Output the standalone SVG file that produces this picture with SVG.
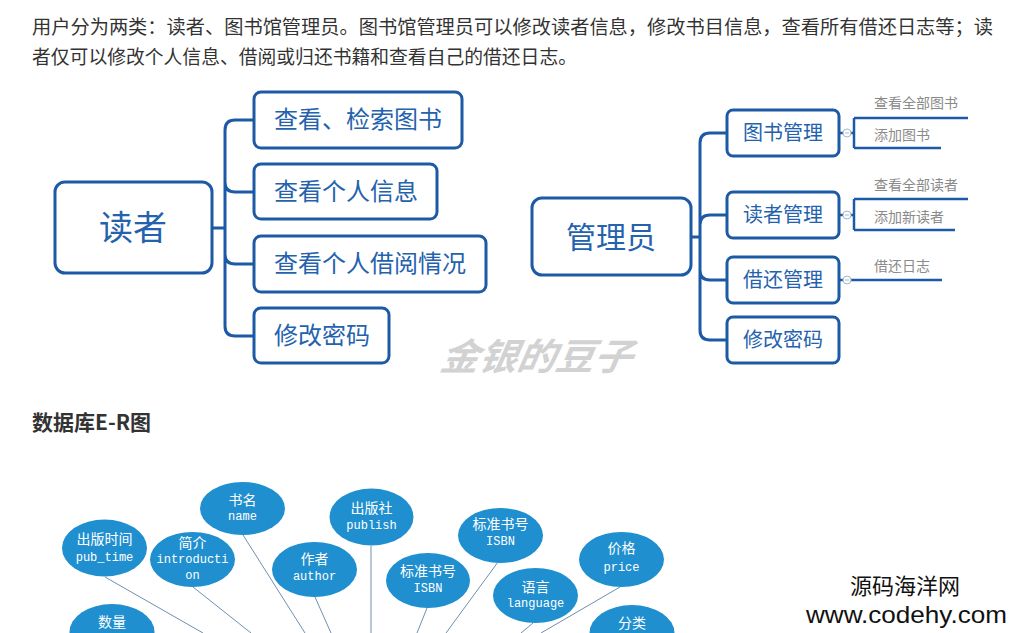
<svg xmlns="http://www.w3.org/2000/svg" width="1011" height="633" viewBox="0 0 1011 633">
<style>
.para{font-family:"Noto Sans CJK SC","Noto Sans",sans-serif;font-size:18.8px;fill:#333}
.box{fill:#fff;stroke:#1d5aa6;stroke-width:3}
.mt{font-family:"Noto Sans CJK SC","Noto Sans",sans-serif;fill:#2462ad}
.br{fill:none;stroke:#1d5aa6;stroke-width:3}
.sub{fill:none;stroke:#1d5aa6;stroke-width:2.5}
.sl{font-family:"Noto Sans CJK SC","Noto Sans",sans-serif;font-size:14px;fill:#8a8a8a}
.tog{fill:#fff;stroke:#a9b6c6;stroke-width:1}
.ell{fill:#1f8fd0}
.ec{font-family:"Noto Sans CJK SC","Noto Sans",sans-serif;font-size:14px;fill:#fff;text-anchor:middle}
.el{font-family:"Liberation Mono",monospace;font-size:12px;fill:#fff;text-anchor:middle}
.ln{stroke:#6f8fae;stroke-width:1;fill:none}
</style>
<rect width="1011" height="633" fill="#fff"/>
<text class="para" x="32" y="34" textLength="961" lengthAdjust="spacingAndGlyphs">用户分为两类：读者、图书馆管理员。图书馆管理员可以修改读者信息，修改书目信息，查看所有借还日志等；读</text>
<text class="para" x="32" y="64" textLength="545" lengthAdjust="spacingAndGlyphs">者仅可以修改个人信息、借阅或归还书籍和查看自己的借还日志。</text>

<g id="reader-connectors">
<path class="br" d="M212,228 H225 M225,228 V130 Q225,120 235,120 H254 M225,228 V182 Q225,192 235,192 H254 M225,228 V254 Q225,264 235,264 H254 M225,228 V326 Q225,336 235,336 H254"/>
</g>
<g id="reader"><rect class="box" x="55" y="182" width="157" height="91" rx="10"/><text class="mt" x="133" y="240" font-size="34" text-anchor="middle">读者</text></g>
<g id="r1"><rect class="box" x="254" y="92" width="208" height="56" rx="7"/><text class="mt" x="274" y="128" font-size="24">查看、检索图书</text></g>
<g id="r2"><rect class="box" x="254" y="164" width="183" height="55" rx="7"/><text class="mt" x="274" y="200" font-size="24">查看个人信息</text></g>
<g id="r3"><rect class="box" x="254" y="236" width="232" height="56" rx="7"/><text class="mt" x="274" y="272" font-size="24">查看个人借阅情况</text></g>
<g id="r4"><rect class="box" x="254" y="308" width="135" height="55" rx="7"/><text class="mt" x="274" y="344" font-size="24">修改密码</text></g>

<g id="admin-connectors">
<path class="br" d="M691,237 H700 M700,237 V143 Q700,133 710,133 H727 M700,237 V225 Q700,215 710,215 H727 M700,237 V270 Q700,280 710,280 H727 M700,237 V330 Q700,340 710,340 H727"/>
<path class="sub" d="M839,133 H843 M851,133 H854 M854,118 V148 M854,118 H968 M854,148 H941"/>
<path class="sub" d="M839,215 H843 M851,215 H854 M854,199 V230 M854,199 H968 M854,230 H955"/>
<path class="sub" d="M839,280 H843 M851,280 H942"/>
<circle class="tog" cx="847" cy="133" r="4"/><path d="M845,133 H849" stroke="#a9b6c6" stroke-width="1"/>
<circle class="tog" cx="847" cy="215" r="4"/><path d="M845,215 H849" stroke="#a9b6c6" stroke-width="1"/>
<circle class="tog" cx="847" cy="280" r="4"/><path d="M845,280 H849" stroke="#a9b6c6" stroke-width="1"/>
</g>
<g id="admin"><rect class="box" x="532" y="198" width="159" height="77" rx="10"/><text class="mt" x="611" y="248" font-size="30" text-anchor="middle">管理员</text></g>
<g id="a1"><rect class="box" x="727" y="110" width="112" height="46" rx="6"/><text class="mt" x="743" y="140" font-size="20">图书管理</text></g>
<g id="a2"><rect class="box" x="727" y="192" width="112" height="46" rx="6"/><text class="mt" x="743" y="222" font-size="20">读者管理</text></g>
<g id="a3"><rect class="box" x="727" y="257" width="112" height="46" rx="6"/><text class="mt" x="743" y="287" font-size="20">借还管理</text></g>
<g id="a4"><rect class="box" x="727" y="317" width="112" height="46" rx="6"/><text class="mt" x="743" y="347" font-size="20">修改密码</text></g>
<g id="a1-subs"><text class="sl" x="874" y="108">查看全部图书</text><text class="sl" x="874" y="140">添加图书</text></g>
<g id="a2-subs"><text class="sl" x="874" y="190">查看全部读者</text><text class="sl" x="874" y="222">添加新读者</text></g>
<g id="a3-subs"><text class="sl" x="874" y="271">借还日志</text></g>

<text x="440" y="370" font-family="'Noto Sans CJK SC',sans-serif" font-size="37" font-weight="bold" font-style="italic" fill="#d2d2d2" textLength="192" lengthAdjust="spacingAndGlyphs" transform="skewX(-10) translate(64,0)">金银的豆子</text>

<text x="32" y="430" font-family="'Noto Sans CJK SC','Noto Sans',sans-serif" font-size="21" font-weight="bold" fill="#333">数据库E-R图</text>

<g id="er-connectors">
<path class="ln" d="M105,577 L203,633"/>
<path class="ln" d="M193,587 L251,633"/>
<path class="ln" d="M243,535 L305,633"/>
<path class="ln" d="M315,597 L331,633"/>
<path class="ln" d="M371,546 L371,633"/>
<path class="ln" d="M427,608 L417,633"/>
<path class="ln" d="M498,562 L446,633"/>
<path class="ln" d="M533,623 L521,633"/>
<path class="ln" d="M620,587 L541,633"/>
</g>
<g id="e-pubtime"><ellipse class="ell" cx="104.5" cy="548" rx="42.5" ry="28.5"/><text class="ec" x="104.5" y="544">出版时间</text><text class="el" x="104.5" y="561">pub_time</text></g>
<g id="e-intro"><ellipse class="ell" cx="192.5" cy="559.5" rx="42.5" ry="27.5"/><text class="ec" x="192.5" y="548">简介</text><text class="el" x="192.5" y="563">introducti</text><text class="el" x="192.5" y="579">on</text></g>
<g id="e-name"><ellipse class="ell" cx="242.5" cy="508.5" rx="42.5" ry="26.5"/><text class="ec" x="242.5" y="505">书名</text><text class="el" x="242.5" y="520">name</text></g>
<g id="e-author"><ellipse class="ell" cx="314.5" cy="569.5" rx="42.5" ry="27.5"/><text class="ec" x="314.5" y="564">作者</text><text class="el" x="314.5" y="580">author</text></g>
<g id="e-publish"><ellipse class="ell" cx="371.5" cy="517" rx="42" ry="28.5"/><text class="ec" x="371.5" y="513">出版社</text><text class="el" x="371.5" y="529">publish</text></g>
<g id="e-isbn2"><ellipse class="ell" cx="500.5" cy="535.5" rx="42.5" ry="27.5"/><text class="ec" x="500.5" y="529">标准书号</text><text class="el" x="500.5" y="545">ISBN</text></g>
<g id="e-isbn1"><ellipse class="ell" cx="428" cy="580.5" rx="42" ry="27.5"/><text class="ec" x="428" y="576">标准书号</text><text class="el" x="428" y="592">ISBN</text></g>
<g id="e-lang"><ellipse class="ell" cx="535.5" cy="595.5" rx="42.5" ry="27.5"/><text class="ec" x="535.5" y="592">语言</text><text class="el" x="535.5" y="607">language</text></g>
<g id="e-price"><ellipse class="ell" cx="621.5" cy="559.5" rx="42.5" ry="27.5"/><text class="ec" x="621.5" y="553">价格</text><text class="el" x="621.5" y="571">price</text></g>
<g id="e-count"><ellipse class="ell" cx="112" cy="632" rx="42.5" ry="28"/><text class="ec" x="112" y="627">数量</text></g>
<g id="e-category"><ellipse class="ell" cx="632" cy="633" rx="42.5" ry="28"/><text class="ec" x="632" y="628">分类</text></g>

<text x="905" y="594" font-family="'Noto Sans CJK SC',sans-serif" font-size="22" fill="#111" text-anchor="middle">源码海洋网</text>
<text x="806" y="623" font-family="'Liberation Sans',sans-serif" font-size="24" fill="#111" textLength="201" lengthAdjust="spacingAndGlyphs">www.codehy.com</text>
</svg>
